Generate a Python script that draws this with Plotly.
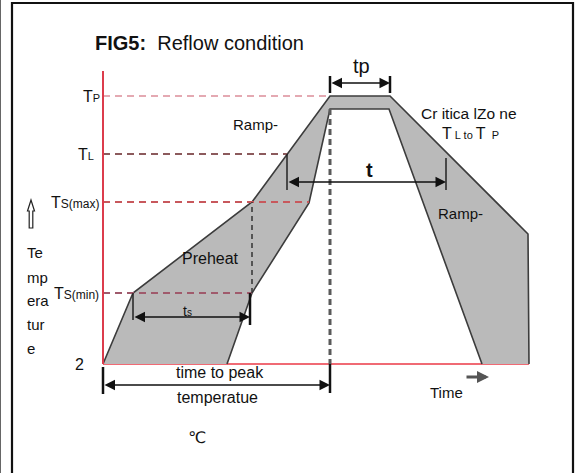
import plotly.graph_objects as go

# ---------------- data (schematic units: time from origin, temperature above baseline) ----
upper_time = [0, 30, 149, 184, 227, 287, 425, 426]
upper_temp = [0, 71, 162, 210, 268, 268, 130, 0]
lower_time = [124, 149, 206, 227, 286, 379]
lower_temp = [0, 71, 161, 255, 255, 0]

level_names = ["T<span style='font-size:11px'>P</span>",
               "T<span style='font-size:11px'>L</span>",
               "T<span style='font-size:12px'>S(max)</span>",
               "T<span style='font-size:12px'>S(min)</span>"]
level_temp = [268, 210, 162, 71]
level_end = [227, 184, 206, 149]
level_colors = ["rgba(225,160,170,0.9)", "#8c5a5c", "#c8585c", "#a05a6c"]

axis_top = 293
axis_end = 426

ts_start, ts_end, ts_level = 30, 147, 47
t_start, t_end, t_level = 184, 343, 182
tp_start, tp_end, tp_level = 227, 287, 281
peak_time, ttp_level = 227, -21

FONT = "Liberation Sans, Arial, sans-serif"

fig = go.Figure()

def line(x, y, color, width, dash=None):
    fig.add_trace(go.Scatter(x=x, y=y, mode="lines", hoverinfo="skip", showlegend=False,
                             line=dict(color=color, width=width, dash=dash)))

# red baseline
line([0, axis_end], [0, 0], "#f06a74", 2)

# gray process window
poly_x = upper_time + lower_time[::-1] + [upper_time[0]]
poly_y = upper_temp + lower_temp[::-1] + [upper_temp[0]]
fig.add_trace(go.Scatter(x=poly_x, y=poly_y, mode="lines", fill="toself",
                         fillcolor="#bababa", line=dict(width=0), hoverinfo="skip",
                         showlegend=False))
line(upper_time, upper_temp, "#3c3c3c", 1.6)
line(lower_time, lower_temp, "#3c3c3c", 1.6)

# dashed temperature levels
for tl, te, c in zip(level_temp, level_end, level_colors):
    line([0, te], [tl, tl], c, 2, "7px,5px")

# vertical guides
line([level_end[3], level_end[3]], [level_temp[3], level_temp[2]], "#333333", 1.5, "5px,4px")
line([peak_time, peak_time], [lower_temp[3], 0], "#5a5a5a", 3, "6px,4px")
line([peak_time, peak_time], [0, -29], "#111111", 2.5)
line([0, 0], [-3, -30], "#111111", 2.5)
line([t_start, t_start], [level_temp[1], t_level - 8], "#222222", 1.5)
line([t_end, t_end], [206, t_level - 8], "#222222", 1.5)
line([tp_start, tp_start], [tp_level + 7, tp_level - 10], "#111111", 2.5)
line([tp_end, tp_end], [tp_level + 7, tp_level - 10], "#111111", 2.5)
line([ts_start, ts_start], [level_temp[3], ts_level - 3], "#222222", 1.5)
line([ts_end, ts_end], [level_temp[3], ts_level - 8], "#111111", 2.5)

# red temperature axis
line([0, 0], [0, axis_top], "#dc3c4c", 2)

ann = []

def arrow(x0, x1, y, width=1.5):
    ann.append(dict(x=x1, y=y, ax=x0, ay=y, xref="x", yref="y", axref="x", ayref="y",
                    text="", showarrow=True, arrowhead=2, arrowside="end+start",
                    arrowsize=1.4, arrowwidth=width, arrowcolor="#111111",
                    standoff=0, startstandoff=0))

arrow(ts_start, ts_end, ts_level)
arrow(t_start, t_end, t_level)
arrow(tp_start, tp_end, tp_level)
arrow(0, peak_time, ttp_level)

# small "time" arrow
ann.append(dict(x=386, y=-13, ax=362, ay=-13, xref="x", yref="y", axref="x", ayref="y",
                text="", showarrow=True, arrowhead=2, arrowsize=0.8, arrowwidth=3,
                arrowcolor="#555555", standoff=0))

def text(x, y, s, size=15, anchor="center", bold=False, family=FONT):
    ann.append(dict(x=x, y=y, xref="x", yref="y", text=("<b>%s</b>" % s) if bold else s,
                    showarrow=False, xanchor=anchor, yanchor="middle",
                    font=dict(family=family, size=size, color="#111111")))

text(-10, 321, "<b>FIG5:</b>  Reflow condition", 20, "left")
text(258, 298, "tp", 20)
text(266, 194, "t", 20, bold=True)
text(152, 240, "Ramp-", 15)
text(357, 151, "Ramp-", 15)
text(107, 106, "Preheat", 16)
text(84, 53, "t<span style='font-size:10px'>s</span>", 14)
text(366, 251, "Cr itica lZo ne", 15.5)
text(367, 231, "T<span style='font-size:11px'> L to </span>T<span style='font-size:11px'>  P</span>", 16)
text(117, -8, "time to peak", 16)
text(114, -33, "temperatue", 16)
text(94, -73, "℃", 16, family="DejaVu Sans")
text(-24, 0, "2", 16)
text(343, -28, "Time", 15)
for yy, s in zip([112, 87, 64, 40, 16], ["Te", "mp", "era", "tur", "e"]):
    text(-78, yy, s, 15, "left")

label_x = [-1, -7, -2, -2]
for lx, ly, s in zip(label_x, level_temp, level_names):
    text(lx, ly, s, 16, "right")

shapes = [
    dict(type="rect", xref="x", yref="y", x0=-91, x1=470, y0=-140, y1=361,
         line=dict(color="#111111", width=2.2), layer="above"),
    dict(type="line", xref="x", yref="y", x0=-102.5, x1=-102.5, y0=-109, y1=364,
         line=dict(color="#666666", width=1)),
    # hollow up arrow next to the temperature label
    dict(type="path", xref="x", yref="y",
         path="M -72,164 L -75.5,153 L -73.8,153 L -73.8,136 L -70.2,136 L -70.2,153 L -68.5,153 Z",
         line=dict(color="#222222", width=1.2), fillcolor="white"),
]

fig.update_layout(
    width=576, height=473, margin=dict(l=0, r=0, t=0, b=0),
    paper_bgcolor="white", plot_bgcolor="white",
    xaxis=dict(range=[-103, 473], visible=False, fixedrange=True),
    yaxis=dict(range=[-109, 364], visible=False, fixedrange=True),
    annotations=ann, shapes=shapes, showlegend=False,
)

# remove the default page margin so the 576x473 figure fills the window exactly
fig.write_html("out.html", config={"displayModeBar": False},
               post_script="document.body.style.margin='0';document.body.style.overflow='hidden';")
